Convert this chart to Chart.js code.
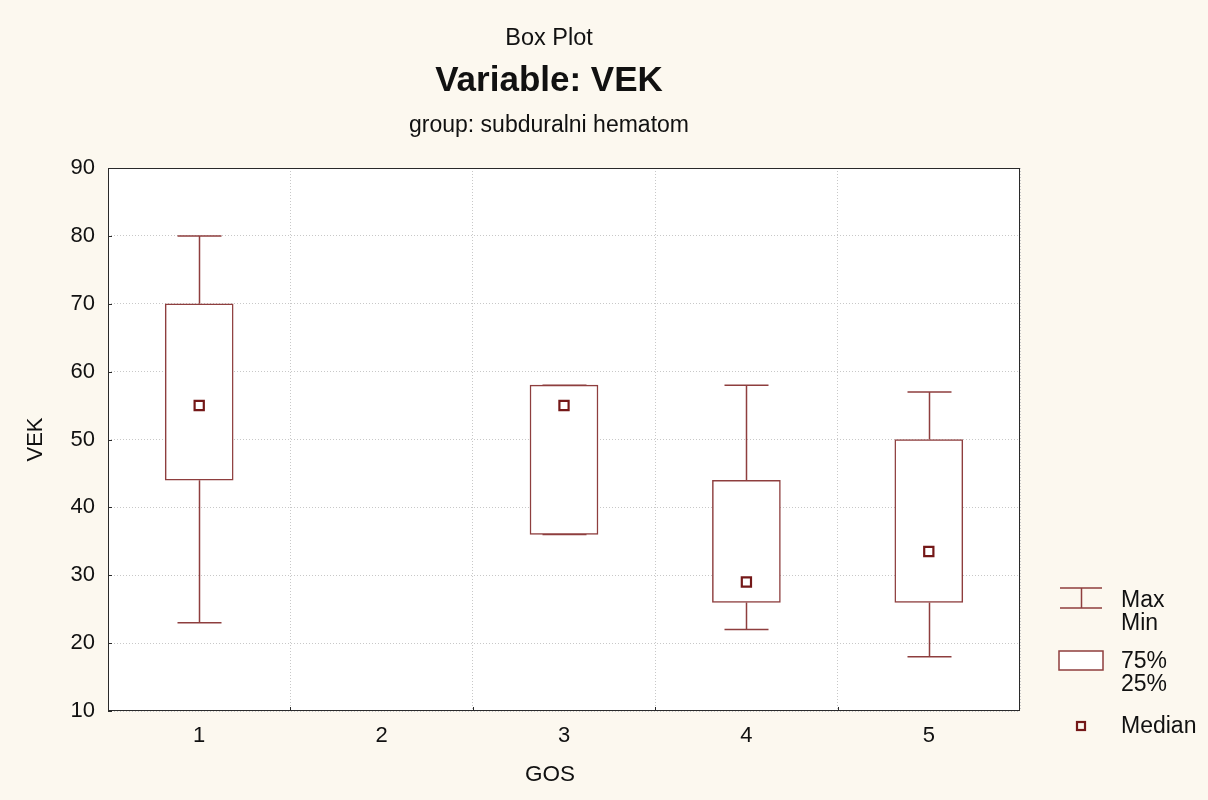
<!DOCTYPE html>
<html>
<head>
<meta charset="utf-8">
<title>Box Plot - VEK</title>
<script src="https://cdn.jsdelivr.net/npm/chart.js@4/dist/chart.umd.min.js"></script>
<style>
  html, body { margin: 0; padding: 0; background: #fcf8ef; }
  canvas { display: block; }
</style>
</head>
<body>
<canvas id="boxChart" width="1208" height="800"></canvas>
<script>
// GOS groups and the VEK summary per group (group 2 has no cases)
const categories = ["1", "2", "3", "4", "5"];
const minVals    = [23, null, 36, 22, 18];
const q1Vals     = [44, null, 36, 26, 26];
const medianVals = [55, null, 55, 29, 33.5];
const q3Vals     = [70, null, 58, 44, 50];
const maxVals    = [80, null, 58, 58, 57];

const yMin = 10;
const yMax = 90;
const yStep = 10;

const titleText = "Box Plot";
const variableText = "Variable: VEK";
const groupText = "group: subduralni hematom";
const xTitle = "GOS";
const yTitle = "VEK";

const boxColor = "#8e3e3e";
const medianColor = "#741818";
const pageBg = "#fcf8ef";
const fontFamily = "'Liberation Sans', Arial, sans-serif";

// boxes are floating bars from the 25% to the 75% value
const boxData = categories.map((c, i) =>
  q1Vals[i] == null ? null : [q1Vals[i], q3Vals[i]]
);

// page + plot backgrounds
const backgroundPlugin = {
  id: "backgrounds",
  beforeDraw(chart) {
    const { ctx, chartArea: a } = chart;
    ctx.save();
    ctx.fillStyle = pageBg;
    ctx.fillRect(0, 0, chart.width, chart.height);
    ctx.fillStyle = "#ffffff";
    ctx.fillRect(a.left, a.top, a.right - a.left, a.bottom - a.top);
    ctx.restore();
  }
};

// min/max whiskers with caps
const whiskerPlugin = {
  id: "whiskers",
  beforeDatasetsDraw(chart) {
    const { ctx, scales: { x, y } } = chart;
    const capHalf = 22;
    ctx.save();
    ctx.strokeStyle = boxColor;
    ctx.lineWidth = 1.5;
    categories.forEach((c, i) => {
      if (minVals[i] == null) return;
      const px = Math.round(x.getPixelForValue(i)) + 0.5;
      const yMinP = y.getPixelForValue(minVals[i]);
      const yQ1 = y.getPixelForValue(q1Vals[i]);
      const yQ3 = y.getPixelForValue(q3Vals[i]);
      const yMaxP = y.getPixelForValue(maxVals[i]);
      ctx.beginPath();
      ctx.moveTo(px, yMinP); ctx.lineTo(px, yQ1);
      ctx.moveTo(px, yQ3); ctx.lineTo(px, yMaxP);
      ctx.moveTo(px - capHalf, yMinP); ctx.lineTo(px + capHalf, yMinP);
      ctx.moveTo(px - capHalf, yMaxP); ctx.lineTo(px + capHalf, yMaxP);
      ctx.stroke();
    });
    ctx.restore();
  }
};

// plot frame, inner tick marks, titles and the legend box on the right
const decorPlugin = {
  id: "decor",
  afterDraw(chart) {
    const { ctx, chartArea: a, scales: { x, y } } = chart;
    ctx.save();

    ctx.strokeStyle = "#2a2a2a";
    ctx.lineWidth = 1;
    ctx.strokeRect(a.left + 0.5, a.top + 0.5, a.right - a.left - 1, a.bottom - a.top - 1);

    ctx.beginPath();
    y.ticks.forEach(t => {
      const py = Math.round(y.getPixelForValue(t.value)) + 0.5;
      ctx.moveTo(a.left, py); ctx.lineTo(a.left + 4, py);
    });
    for (let i = 0; i < categories.length - 1; i++) {
      const px = Math.round((x.getPixelForValue(i) + x.getPixelForValue(i + 1)) / 2) + 0.5;
      ctx.moveTo(px, a.bottom); ctx.lineTo(px, a.bottom - 4);
    }
    ctx.stroke();

    // titles
    const cx = 549;
    ctx.fillStyle = "#111";
    ctx.textAlign = "center";
    ctx.textBaseline = "middle";
    ctx.font = "23.5px " + fontFamily;
    ctx.fillText(titleText, cx, 39);
    ctx.font = "bold 35px " + fontFamily;
    ctx.fillText(variableText, cx, 81);
    ctx.font = "23px " + fontFamily;
    ctx.fillText(groupText, cx, 126);

    // x axis title
    ctx.font = "22.5px " + fontFamily;
    ctx.fillText(xTitle, 550, 775);

    // legend
    const lx = 1081;
    ctx.strokeStyle = boxColor;
    ctx.lineWidth = 1.5;
    ctx.beginPath();
    ctx.moveTo(lx - 21, 588); ctx.lineTo(lx + 21, 588);
    ctx.moveTo(lx - 21, 608); ctx.lineTo(lx + 21, 608);
    ctx.moveTo(lx + 0.5, 588); ctx.lineTo(lx + 0.5, 608);
    ctx.stroke();
    ctx.fillStyle = "#fff";
    ctx.fillRect(lx - 22, 651, 44, 19);
    ctx.strokeRect(lx - 22, 651, 44, 19);
    ctx.strokeStyle = medianColor;
    ctx.lineWidth = 2.2;
    ctx.strokeRect(lx - 4, 722, 8, 8);

    ctx.fillStyle = "#111";
    ctx.textAlign = "left";
    ctx.font = "23px " + fontFamily;
    ctx.fillText("Max", 1121, 601);
    ctx.fillText("Min", 1121, 624);
    ctx.fillText("75%", 1121, 662);
    ctx.fillText("25%", 1121, 685);
    ctx.fillText("Median", 1121, 727);
    ctx.restore();
  }
};

const ctx = document.getElementById("boxChart");

new Chart(ctx, {
  type: "bar",
  data: {
    labels: categories,
    datasets: [
      {
        label: "75% / 25%",
        data: boxData,
        backgroundColor: "#ffffff",
        borderColor: boxColor,
        borderWidth: 1.5,
        borderSkipped: false,
        barThickness: 68,
        order: 2
      },
      {
        type: "line",
        label: "Median",
        data: medianVals,
        showLine: false,
        pointStyle: "rect",
        pointRadius: 6.5,
        pointBorderWidth: 2.2,
        pointBorderColor: medianColor,
        pointBackgroundColor: "#ffffff",
        order: 1
      }
    ]
  },
  options: {
    responsive: false,
    animation: false,
    events: [],
    layout: { padding: { left: 0, right: 188, top: 168, bottom: 0 } },
    plugins: {
      legend: { display: false },
      tooltip: { enabled: false },
      title: { display: false }
    },
    scales: {
      x: {
        offset: true,
        grid: { offset: true, color: "#c8c8c8", drawTicks: false },
        border: { display: false, dash: [1, 2] },
        ticks: { color: "#111", padding: 12, font: { family: fontFamily, size: 22 } },
        title: { display: false },
        afterFit(scale) { scale.height = 89; }
      },
      y: {
        min: yMin,
        max: yMax,
        grid: { color: "#c8c8c8", drawTicks: false },
        border: { display: false, dash: [1, 2] },
        ticks: { stepSize: yStep, color: "#111", padding: 13, font: { family: fontFamily, size: 22 } },
        title: {
          display: true, text: yTitle, color: "#111",
          font: { family: fontFamily, size: 22 },
          padding: { top: 23, bottom: 0 }
        },
        afterFit(scale) { scale.width = 108; }
      }
    }
  },
  plugins: [backgroundPlugin, whiskerPlugin, decorPlugin]
});
</script>
</body>
</html>
